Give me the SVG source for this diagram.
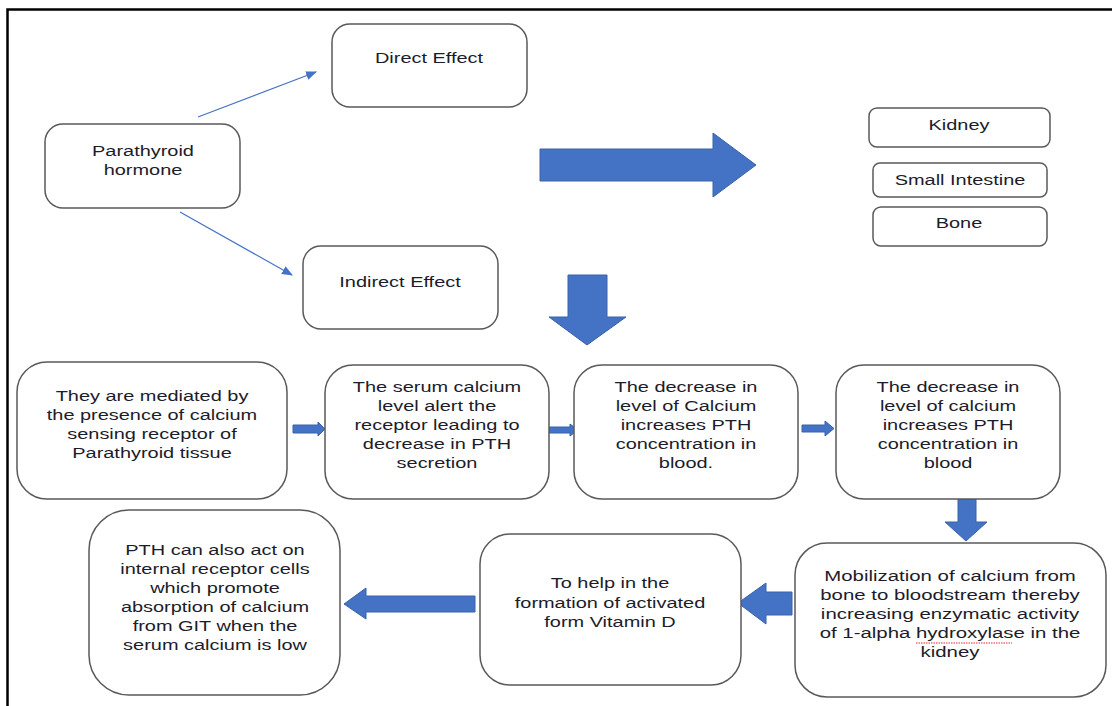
<svg xmlns="http://www.w3.org/2000/svg" width="1112" height="706" viewBox="0 0 1112 706">
<style>
.box{fill:#fff;stroke:#595959;stroke-width:1.5}
.t{font-family:"Liberation Sans",Arial,sans-serif;font-size:15px;fill:#1c1c2a;text-anchor:middle}
.blk{fill:#4472C4;stroke:#3A62A8;stroke-width:1}
.thin{stroke:#4472C4;stroke-width:1.2;fill:none}
</style>
<defs>
<marker id="ah" viewBox="0 0 10 10" refX="9" refY="5" markerWidth="11" markerHeight="11" markerUnits="userSpaceOnUse" orient="auto"><path d="M0,1 L10,5 L0,9 Z" fill="#4472C4"/></marker>
</defs>
<rect width="1112" height="706" fill="#fff"/>
<path d="M7.5,706 V9.5 H1112" fill="none" stroke="#000" stroke-width="2.5"/>

<g id="connectors">
<line class="thin" x1="198" y1="117" x2="316" y2="72" marker-end="url(#ah)"/>
<line class="thin" x1="180" y1="212" x2="292" y2="275" marker-end="url(#ah)"/>
<path class="blk" d="M540,149 H713 V133 L756,165 L713,197 V181 H540 Z"/>
<path class="blk" d="M568,275 H607 V317 H626 L587,345 L549,317 H568 Z"/>
<path class="blk" d="M293,425 H318 V422 L325,429 L318,436 V433 H293 Z"/>
<path class="blk" d="M549,427 H570 V424 L578,430 L570,436 V433 H549 Z"/>
<path class="blk" d="M802,425 H825 V421 L834,428.5 L825,436 V432 H802 Z"/>
<path class="blk" d="M958,499 H976 V522 H987 L966,541 L945,522 H958 Z"/>
<path class="blk" d="M792,592 H766 V583 L738,603 L766,624 V615 H792 Z"/>
<path class="blk" d="M475,596 H366 V588 L344,604 L366,619 V612 H475 Z"/>
</g>

<g id="pth">
<rect class="box" x="45" y="124" width="195" height="84" rx="18"/>
<text class="t" transform="translate(143,156) scale(1.33,1)">Parathyroid</text>
<text class="t" transform="translate(143,175) scale(1.33,1)">hormone</text>
</g>
<g id="direct">
<rect class="box" x="332" y="24" width="195" height="83" rx="18"/>
<text class="t" transform="translate(429,63) scale(1.33,1)">Direct Effect</text>
</g>
<g id="indirect">
<rect class="box" x="303" y="246" width="195" height="83" rx="18"/>
<text class="t" transform="translate(400,287) scale(1.33,1)">Indirect Effect</text>
</g>
<g id="kidney">
<rect class="box" x="869" y="108" width="181" height="39" rx="8"/>
<text class="t" transform="translate(959,130) scale(1.33,1)">Kidney</text>
</g>
<g id="intestine">
<rect class="box" x="873" y="163" width="174" height="34" rx="7"/>
<text class="t" transform="translate(960,185) scale(1.33,1)">Small Intestine</text>
</g>
<g id="bone">
<rect class="box" x="873" y="207" width="174" height="39" rx="8"/>
<text class="t" transform="translate(959,228) scale(1.33,1)">Bone</text>
</g>

<g id="mediated">
<rect class="box" x="17" y="362" width="270" height="137" rx="30"/>
<text class="t" transform="translate(152,401) scale(1.33,1)">They are mediated by</text>
<text class="t" transform="translate(152,420) scale(1.33,1)">the presence of calcium</text>
<text class="t" transform="translate(152,439) scale(1.33,1)">sensing receptor of</text>
<text class="t" transform="translate(152,458) scale(1.33,1)">Parathyroid tissue</text>
</g>
<g id="serum">
<rect class="box" x="325" y="365" width="224" height="134" rx="28"/>
<text class="t" transform="translate(437,392) scale(1.33,1)">The serum calcium</text>
<text class="t" transform="translate(437,411) scale(1.33,1)">level alert the</text>
<text class="t" transform="translate(437,430) scale(1.33,1)">receptor leading to</text>
<text class="t" transform="translate(437,449) scale(1.33,1)">decrease in PTH</text>
<text class="t" transform="translate(437,468) scale(1.33,1)">secretion</text>
</g>
<g id="decrease1">
<rect class="box" x="574" y="365" width="224" height="134" rx="28"/>
<text class="t" transform="translate(686,392) scale(1.33,1)">The decrease in</text>
<text class="t" transform="translate(686,411) scale(1.33,1)">level of Calcium</text>
<text class="t" transform="translate(686,430) scale(1.33,1)">increases PTH</text>
<text class="t" transform="translate(686,449) scale(1.33,1)">concentration in</text>
<text class="t" transform="translate(686,468) scale(1.33,1)">blood.</text>
</g>
<g id="decrease2">
<rect class="box" x="836" y="365" width="224" height="134" rx="28"/>
<text class="t" transform="translate(948,392) scale(1.33,1)">The decrease in</text>
<text class="t" transform="translate(948,411) scale(1.33,1)">level of calcium</text>
<text class="t" transform="translate(948,430) scale(1.33,1)">increases PTH</text>
<text class="t" transform="translate(948,449) scale(1.33,1)">concentration in</text>
<text class="t" transform="translate(948,468) scale(1.33,1)">blood</text>
</g>
<g id="mobilization">
<rect class="box" x="795" y="543" width="311" height="154" rx="32"/>
<text class="t" transform="translate(950,581) scale(1.36,1)">Mobilization of calcium from</text>
<text class="t" transform="translate(950,600) scale(1.36,1)">bone to bloodstream thereby</text>
<text class="t" transform="translate(950,619) scale(1.36,1)">increasing enzymatic activity</text>
<text class="t" transform="translate(950,638) scale(1.36,1)">of 1-alpha hydroxylase in the</text>
<text class="t" transform="translate(950,657) scale(1.36,1)">kidney</text>
<path d="M916,643 h96" stroke="#e03030" stroke-width="1.2" stroke-dasharray="1.5,1" fill="none"/>
</g>
<g id="vitd">
<rect class="box" x="480" y="534" width="261" height="151" rx="30"/>
<text class="t" transform="translate(610,588) scale(1.33,1)">To help in the</text>
<text class="t" transform="translate(610,608) scale(1.33,1)">formation of activated</text>
<text class="t" transform="translate(610,627) scale(1.33,1)">form Vitamin D</text>
</g>
<g id="git">
<rect class="box" x="89" y="510" width="251" height="185" rx="40"/>
<text class="t" transform="translate(215,555) scale(1.33,1)">PTH can also act on</text>
<text class="t" transform="translate(215,574) scale(1.33,1)">internal receptor cells</text>
<text class="t" transform="translate(215,593) scale(1.33,1)">which promote</text>
<text class="t" transform="translate(215,612) scale(1.33,1)">absorption of calcium</text>
<text class="t" transform="translate(215,631) scale(1.33,1)">from GIT when the</text>
<text class="t" transform="translate(215,650) scale(1.33,1)">serum calcium is low</text>
</g>
</svg>
